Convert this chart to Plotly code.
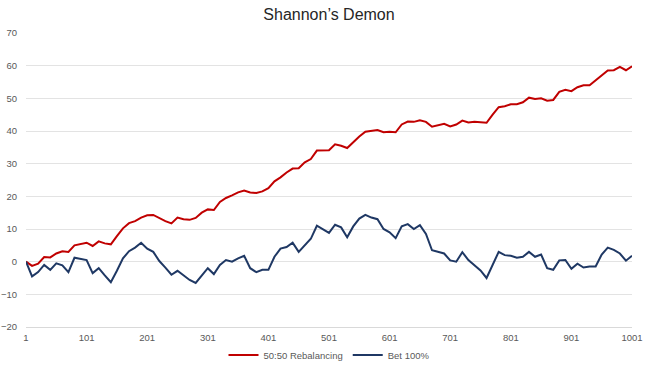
import plotly.graph_objects as go

steps = list(range(1, 1002, 10))

rebalancing = [
    0, -1.3, -0.6, 1.4, 1.3, 2.5, 3.2, 3.0, 5.0, 5.3,
    5.8, 4.8, 6.2, 5.6, 5.3, 7.8, 10.2, 11.8, 12.4, 13.5,
    14.2, 14.3, 13.3, 12.4, 11.7, 13.5, 13.0, 12.8, 13.4, 15.0,
    16.0, 15.8, 18.3, 19.5, 20.3, 21.2, 21.8, 21.2, 21.0, 21.5,
    22.5, 24.6, 25.8, 27.3, 28.5, 28.6, 30.4, 31.4, 34.0, 34.0,
    34.1, 35.9, 35.5, 34.8, 36.6, 38.3, 39.8, 40.1, 40.3, 39.6,
    39.8, 39.6, 42.0, 42.9, 42.8, 43.3, 42.8, 41.3, 41.8, 42.2,
    41.4, 42.0, 43.2, 42.6, 42.8, 42.7, 42.5, 45.0, 47.3, 47.6,
    48.2, 48.2, 48.8, 50.2, 49.8, 50.0, 49.3, 49.5, 52.0, 52.6,
    52.2, 53.4, 54.0, 54.0, 55.5, 57.2, 58.5, 58.6, 59.6, 58.6,
    59.8,
]

bet100 = [
    0, -4.5, -3.2, -1.0, -2.5, -0.5, -1.1, -3.2, 1.2, 0.8,
    0.5, -3.5, -2.0, -4.2, -6.3, -2.8, 1.0, 3.2, 4.3, 5.8,
    4.0, 3.0, 0.2, -1.8, -4.0, -2.8, -4.2, -5.6, -6.5, -4.3,
    -2.0, -3.8, -1.0, 0.5, 0.0, 1.0, 1.8, -2.0, -3.2, -2.5,
    -2.5, 1.5, 4.0, 4.5, 5.8, 3.0, 5.0, 7.0, 11.0, 9.8,
    8.8, 11.3, 10.5, 7.5, 10.8, 13.2, 14.3, 13.5, 13.0, 10.0,
    9.0, 7.2, 10.8, 11.5, 10.0, 11.2, 8.5, 3.5, 3.0, 2.5,
    0.4, 0.0, 2.9, 0.5, -1.1, -2.7, -5.0, -0.8, 3.0, 2.0,
    1.8, 1.2, 1.5, 3.0, 1.5, 2.2, -2.0, -2.5, 0.4, 0.5,
    -2.2, -0.6, -1.8, -1.5, -1.5, 2.2, 4.3, 3.6, 2.5, 0.3,
    1.8,
]

x_ticks = list(range(1, 1002, 100))
y_ticks = list(range(-20, 71, 10))

fig = go.Figure()
fig.add_trace(go.Scatter(x=steps, y=rebalancing, mode="lines",
                         name="50:50 Rebalancing",
                         line=dict(color="#C00000", width=2)))
fig.add_trace(go.Scatter(x=steps, y=bet100, mode="lines",
                         name="Bet 100%",
                         line=dict(color="#1F3864", width=2)))

fig.update_layout(
    template="none",
    width=650, height=366,
    margin=dict(l=26, r=18, t=33, b=39, autoexpand=False),
    paper_bgcolor="white", plot_bgcolor="white",
    font=dict(family="Liberation Sans, Arial, sans-serif", color="#595959", size=10),
    title=dict(text="Shannon’s Demon", x=0.5, xanchor="center",
               xref="paper",
               y=1 - 14 / 366, yanchor="middle",
               font=dict(size=16, color="#262626")),
    showlegend=True,
    legend=dict(orientation="h", x=0.5, xanchor="center", y=-28 / 294, yanchor="middle",
                font=dict(size=9.5, color="#595959"), itemwidth=30,
                bgcolor="rgba(0,0,0,0)"),
    xaxis=dict(range=[1, 1001], tickvals=x_ticks, ticktext=[str(v) for v in x_ticks],
               showgrid=False, zeroline=False, showline=True, linecolor="#d9d9d9",
               linewidth=1, ticks="", automargin=False, ticklabelstandoff=2,
               tickfont=dict(size=9.5, color="#595959")),
    yaxis=dict(range=[-20, 70], tickvals=y_ticks, showgrid=True, gridcolor="#e3e3e3",
               gridwidth=1, zeroline=False, showline=False, ticks="", automargin=False,
               ticklabelstandoff=8, tickfont=dict(size=9.5, color="#595959")),
)

fig.write_html(
    "out.html",
    config={"displayModeBar": False},
    post_script="document.body.style.margin='0';document.body.style.overflow='hidden';",
)
